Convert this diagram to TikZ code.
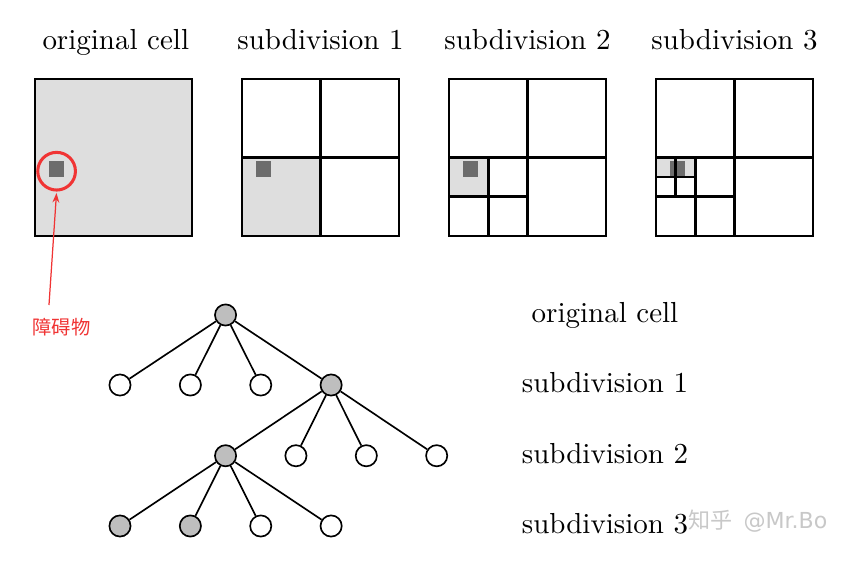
\documentclass[tikz,border=0pt]{standalone}
\usepackage{fontspec}
\setmainfont{lmroman10-regular.otf}
\newfontfamily\cjk{Noto Sans CJK SC}
\newfontfamily\wmlatin{DejaVu Sans}
\usetikzlibrary{positioning,arrows.meta}
\definecolor{cellgray}{RGB}{222,222,222}
\definecolor{obstgray}{RGB}{108,108,108}
\definecolor{nodegray}{RGB}{190,190,190}
\definecolor{markred}{RGB}{240,52,52}
\definecolor{wmgray}{RGB}{200,200,200}

\begin{document}
\begin{tikzpicture}
                [>=Stealth,
                 label/.style={font=\fontsize{21}{25}\selectfont,anchor=base},
                 grid/.style={line width=2pt,line cap=rect},
                 free/.style={circle,draw,line width=1.2pt,fill=white,minimum size=0.54cm,inner sep=0pt},
                 hit/.style={free,fill=nodegray},
                 edge/.style={line width=1.2pt}]

                \useasboundingbox (0,0) rectangle (21.885,14.471);

                \pgfmathsetmacro{\boxStep}{5.274}
                \pgfmathsetmacro{\dx}{1.793}

                % the four cells
                \begin{scope}[shift={(0.892,8.459)}]
                    \fill[cellgray] (0,0) rectangle (4,4);
                    \fill[obstgray] (0.35,1.5) rectangle (0.75,1.9);
                    \draw[grid] (0,0) rectangle (4,4);
                    \node[draw=markred,line width=2.2pt,circle,minimum size=0.96cm] (mark) at (0.55,1.65) {};
                \end{scope}
                \begin{scope}[shift={(0.892+\boxStep,8.459)}]
                    \fill[cellgray] (0,0) rectangle (2,2);
                    \fill[obstgray] (0.35,1.5) rectangle (0.75,1.9);
                    \draw[grid] (0,0) rectangle (4,4) (2,0) -- (2,4) (0,2) -- (4,2);
                \end{scope}
                \begin{scope}[shift={(0.892+2*\boxStep,8.459)}]
                    \fill[cellgray] (0,1) rectangle (1,2);
                    \fill[obstgray] (0.35,1.5) rectangle (0.75,1.9);
                    \draw[grid] (0,0) rectangle (4,4) (2,0) -- (2,4) (0,2) -- (4,2);
                    \draw[grid] (1,0) -- (1,2) (0,1) -- (2,1);
                \end{scope}
                \begin{scope}[shift={(0.892+3*\boxStep,8.459)}]
                    \fill[cellgray] (0,1.5) rectangle (1,2);
                    \fill[obstgray] (0.35,1.5) rectangle (0.75,1.9);
                    \draw[grid] (0,0) rectangle (4,4) (2,0) -- (2,4) (0,2) -- (4,2);
                    \draw[grid] (1,0) -- (1,2) (0,1) -- (2,1);
                    \draw[grid] (0.5,1) -- (0.5,2) (0,1.5) -- (1,1.5);
                \end{scope}

                \node[label] (top0) at (2.95,13.198) {original cell};
                \foreach \i in {1,2,3}
                    \node[label] (top\i) at ({2.892+\i*\boxStep},13.198) {subdivision \i};

                % obstacle note
                \node[text=markred,font=\cjk\fontsize{14}{16}\selectfont] (obst) at (1.567,6.127) {障碍物};
                \coordinate (tail) at (1.248,6.70);
                \draw[markred,line width=0.9pt,-{Stealth[length=7pt,width=5pt]},shorten >=1pt] (tail) -- (mark.south);

                % quadtree
                \node[hit] (root) at ({3.057+1.5*\dx},6.446) {};
                \foreach \i in {0,1,2}
                    \node[free] (a\i) at ({3.057+\i*\dx},4.662) {};
                \node[hit] (a3) at ({3.057+3*\dx},4.662) {};
                \node[hit] (b0) at ({3.057+1.5*\dx},2.860) {};
                \foreach \i in {1,2,3}
                    \node[free] (b\i) at ({3.057+(\i+1.5)*\dx},2.860) {};
                \node[hit] (c0) at (3.057,1.070) {};
                \node[hit] (c1) at ({3.057+\dx},1.070) {};
                \node[free] (c2) at ({3.057+2*\dx},1.070) {};
                \node[free] (c3) at ({3.057+3*\dx},1.070) {};

                \foreach \i in {0,...,3} {
                    \draw[edge] (root) -- (a\i);
                    \draw[edge] (a3) -- (b\i);
                    \draw[edge] (b0) -- (c\i);
                }

                \node[label] (lev0) at (15.414,6.246) {original cell};
                \node[label] (lev1) at (15.414,4.470) {subdivision 1};
                \node[label] (lev2) at (15.414,2.668) {subdivision 2};
                \node[label] (lev3) at (15.414,0.878) {subdivision 3};

                \node[text=wmgray,font=\fontsize{16}{18}\selectfont,anchor=west,inner sep=0pt] (wm) at (17.53,1.197) {{\cjk 知乎}\hspace{8pt}{\wmlatin @Mr.Bo}};

            \end{tikzpicture}
\end{document}
